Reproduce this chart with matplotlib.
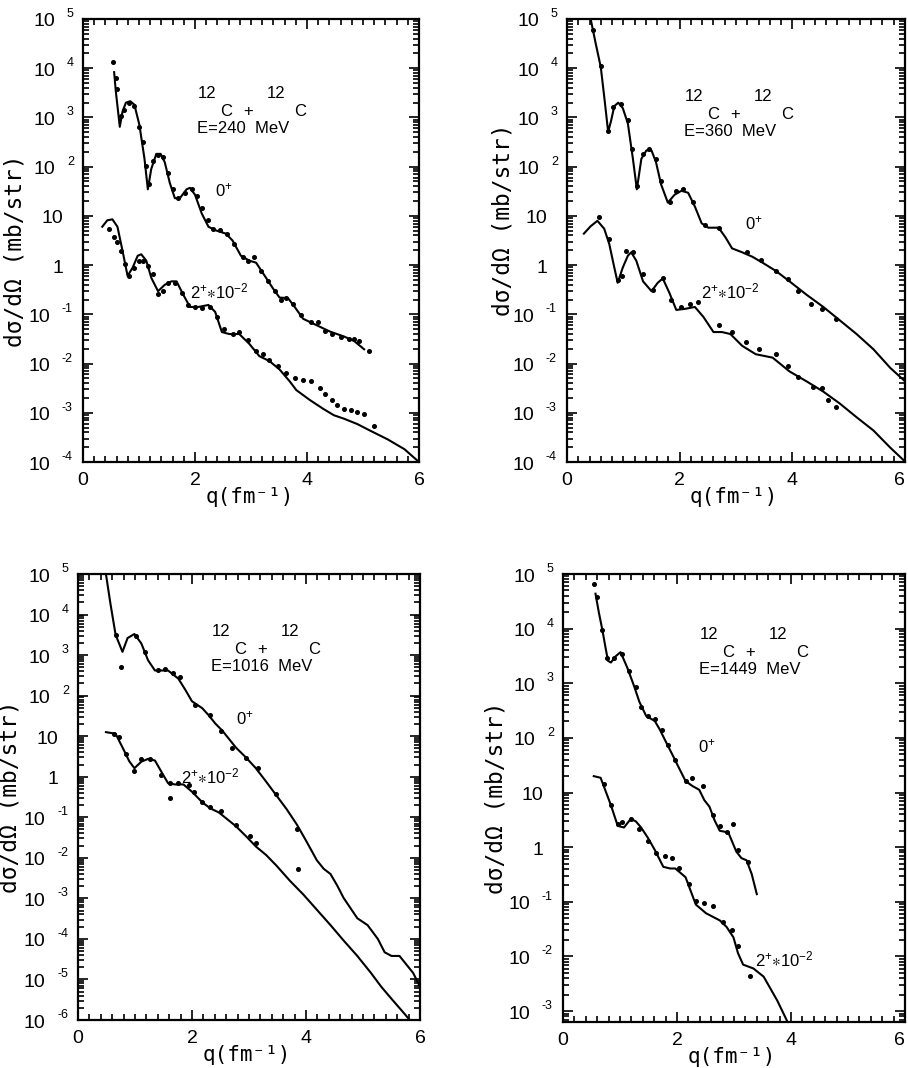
import numpy as np
import matplotlib
matplotlib.use("Agg")
import matplotlib.pyplot as plt
from matplotlib.ticker import FixedLocator, MultipleLocator, LogLocator, NullFormatter

plt.rcParams['font.family'] = ['Liberation Sans', 'DejaVu Sans']
plt.rcParams['mathtext.default'] = 'regular'

# ---------------- data (q in fm^-1, log10 of dsigma/dOmega in mb/sr) ----------------
# Panel 1 : E = 240 MeV
p1_th0_q = [0.556, 0.585, 0.657, 0.706, 0.766, 0.844, 0.917, 1.007, 1.098, 1.158, 1.218, 1.309, 1.387, 1.46, 1.55, 1.64, 1.73, 1.85, 1.91, 2.00, 2.12, 2.24, 2.36, 2.55, 2.67, 2.82, 2.97, 3.09, 3.27, 3.39, 3.51, 3.66, 3.78, 3.93, 4.17, 4.41, 4.66, 4.84, 5.02]
p1_th0_l = [3.92, 3.54, 2.81, 3.12, 3.30, 3.33, 3.26, 2.85, 2.16, 1.54, 1.95, 2.26, 2.26, 2.09, 1.67, 1.36, 1.36, 1.54, 1.57, 1.43, 1.05, 0.78, 0.71, 0.64, 0.50, 0.19, 0.09, 0.05, -0.26, -0.47, -0.66, -0.67, -0.85, -1.09, -1.22, -1.35, -1.45, -1.54, -1.71]
p1_ex0_q = [0.54, 0.585, 0.615, 0.675, 0.736, 0.826, 0.917, 1.007, 1.07, 1.13, 1.176, 1.25, 1.34, 1.43, 1.52, 1.61, 1.70, 1.82, 1.94, 2.03, 2.12, 2.24, 2.33, 2.45, 2.58, 2.70, 2.85, 2.94, 3.06, 3.18, 3.30, 3.42, 3.54, 3.63, 3.75, 3.90, 4.08, 4.20, 4.32, 4.44, 4.60, 4.75, 4.84, 4.93, 5.11]
p1_ex0_l = [4.12, 3.81, 3.57, 3.02, 3.16, 3.30, 3.23, 2.81, 2.50, 2.02, 1.64, 2.12, 2.24, 2.19, 1.88, 1.54, 1.36, 1.47, 1.54, 1.40, 1.16, 0.91, 0.74, 0.71, 0.64, 0.43, 0.16, 0.09, 0.16, -0.12, -0.33, -0.53, -0.71, -0.67, -0.78, -1.02, -1.16, -1.16, -1.33, -1.40, -1.47, -1.50, -1.50, -1.54, -1.74]
p1_th2_q = [0.344, 0.434, 0.525, 0.615, 0.706, 0.796, 0.887, 0.977, 1.04, 1.13, 1.22, 1.34, 1.46, 1.58, 1.67, 1.79, 1.91, 2.06, 2.24, 2.36, 2.48, 2.61, 2.79, 2.97, 3.15, 3.33, 3.51, 3.69, 3.81, 4.05, 4.29, 4.48, 4.66, 4.90, 5.14, 5.44, 5.74, 6.0]
p1_th2_l = [0.78, 0.91, 0.93, 0.78, 0.29, -0.22, -0.05, 0.19, 0.22, 0.09, -0.26, -0.53, -0.40, -0.33, -0.33, -0.60, -0.85, -0.85, -0.81, -0.95, -1.36, -1.40, -1.40, -1.60, -1.85, -1.95, -2.12, -2.36, -2.54, -2.74, -2.92, -3.05, -3.12, -3.23, -3.37, -3.54, -3.74, -4.0]
p1_ex2_q = [0.464, 0.555, 0.615, 0.675, 0.748, 0.826, 0.917, 1.007, 1.07, 1.16, 1.25, 1.34, 1.43, 1.52, 1.64, 1.76, 1.88, 2.00, 2.12, 2.27, 2.39, 2.52, 2.67, 2.79, 2.94, 3.09, 3.21, 3.33, 3.48, 3.63, 3.78, 3.93, 4.08, 4.23, 4.32, 4.44, 4.54, 4.66, 4.78, 4.90, 5.02, 5.20]
p1_ex2_l = [0.74, 0.57, 0.47, 0.29, 0.02, -0.22, -0.05, 0.09, 0.09, -0.02, -0.19, -0.59, -0.53, -0.36, -0.36, -0.57, -0.81, -0.85, -0.87, -0.85, -1.05, -1.29, -1.40, -1.36, -1.53, -1.74, -1.81, -1.92, -2.05, -2.19, -2.29, -2.33, -2.36, -2.50, -2.61, -2.74, -2.85, -2.92, -2.95, -2.99, -3.02, -3.26]

# Panel 2 : E = 360 MeV
p2_th0_q = [0.42, 0.51, 0.60, 0.67, 0.73, 0.78, 0.84, 0.91, 0.99, 1.08, 1.17, 1.24, 1.32, 1.41, 1.50, 1.58, 1.67, 1.79, 1.91, 2.03, 2.15, 2.27, 2.39, 2.51, 2.69, 2.81, 2.93, 3.11, 3.29, 3.47, 3.71, 3.95, 4.25, 4.55, 4.84, 5.14, 5.44, 5.74, 6.0]
p2_th0_l = [5.0, 4.50, 4.02, 3.33, 2.71, 2.92, 3.23, 3.30, 3.19, 2.88, 2.16, 1.54, 2.16, 2.33, 2.33, 2.09, 1.64, 1.27, 1.43, 1.51, 1.47, 1.19, 0.85, 0.76, 0.76, 0.57, 0.34, 0.26, 0.17, 0.05, -0.12, -0.33, -0.60, -0.85, -1.12, -1.40, -1.71, -2.09, -2.36]
p2_ex0_q = [0.47, 0.60, 0.73, 0.81, 0.96, 1.08, 1.15, 1.24, 1.35, 1.45, 1.58, 1.67, 1.82, 1.94, 2.06, 2.24, 2.45, 2.69, 3.20, 3.44, 3.71, 3.92, 4.10, 4.34, 4.52, 4.78]
p2_ex0_l = [4.78, 4.05, 2.72, 3.21, 3.27, 2.95, 2.36, 1.60, 2.26, 2.36, 2.16, 1.71, 1.29, 1.50, 1.54, 1.29, 0.81, 0.76, 0.26, 0.10, -0.12, -0.29, -0.53, -0.80, -0.89, -1.10]
p2_th2_q = [0.30, 0.42, 0.54, 0.66, 0.75, 0.84, 0.90, 0.99, 1.08, 1.14, 1.23, 1.35, 1.50, 1.61, 1.70, 1.82, 1.94, 2.09, 2.27, 2.42, 2.60, 2.75, 2.90, 3.11, 3.35, 3.65, 3.95, 4.25, 4.55, 4.84, 5.14, 5.44, 5.74, 6.0]
p2_th2_l = [0.64, 0.79, 0.90, 0.74, 0.43, -0.05, -0.36, -0.05, 0.19, 0.26, 0.09, -0.33, -0.53, -0.36, -0.27, -0.57, -0.91, -0.89, -0.85, -1.05, -1.36, -1.36, -1.40, -1.64, -1.81, -1.88, -2.16, -2.36, -2.57, -2.81, -3.09, -3.36, -3.71, -3.99]
p2_ex2_q = [0.57, 0.75, 0.90, 0.97, 1.05, 1.17, 1.35, 1.53, 1.70, 1.85, 2.03, 2.18, 2.33, 2.69, 2.93, 3.17, 3.41, 3.71, 3.92, 4.10, 4.37, 4.52, 4.64, 4.78]
p2_ex2_l = [0.98, 0.53, -0.31, -0.22, 0.29, 0.26, -0.19, -0.50, -0.26, -0.71, -0.85, -0.79, -0.74, -1.22, -1.35, -1.57, -1.71, -1.81, -2.05, -2.27, -2.47, -2.49, -2.74, -2.88]

# Panel 3 : E = 1016 MeV
p3_th0_q = [0.49, 0.57, 0.66, 0.78, 0.87, 0.99, 1.11, 1.23, 1.35, 1.46, 1.58, 1.76, 1.88, 2.00, 2.18, 2.29, 2.41, 2.53, 2.65, 2.77, 2.95, 3.12, 3.30, 3.48, 3.66, 3.84, 4.01, 4.19, 4.31, 4.43, 4.55, 4.66, 4.78, 4.90, 5.08, 5.26, 5.38, 5.50, 5.64, 5.76, 5.88, 6.0]
p3_th0_l = [5.0, 4.26, 3.50, 3.08, 3.42, 3.52, 3.29, 2.87, 2.62, 2.62, 2.62, 2.42, 2.15, 1.86, 1.69, 1.52, 1.31, 1.14, 0.93, 0.72, 0.47, 0.21, -0.12, -0.46, -0.80, -1.18, -1.60, -2.06, -2.27, -2.40, -2.69, -2.99, -3.24, -3.49, -3.66, -4.00, -4.33, -4.42, -4.42, -4.63, -4.84, -5.18]
p3_ex0_q = [0.66, 0.75, 1.02, 1.17, 1.40, 1.52, 1.67, 1.79, 2.06, 2.32, 2.50, 2.71, 2.95, 3.15, 3.48, 3.84, 3.86]
p3_ex0_l = [3.50, 2.70, 3.46, 3.08, 2.62, 2.66, 2.57, 2.45, 1.77, 1.52, 1.14, 0.72, 0.47, 0.21, -0.42, -1.30, -2.27]
p3_th2_q = [0.49, 0.66, 0.81, 0.90, 0.99, 1.11, 1.23, 1.35, 1.46, 1.58, 1.70, 1.85, 2.00, 2.18, 2.32, 2.47, 2.62, 2.77, 2.95, 3.12, 3.30, 3.48, 3.72, 3.95, 4.19, 4.43, 4.66, 4.90, 5.14, 5.32, 5.52, 5.73, 5.82]
p3_th2_l = [1.10, 1.06, 0.64, 0.38, 0.21, 0.37, 0.44, 0.40, 0.13, -0.16, -0.19, -0.19, -0.37, -0.63, -0.78, -0.88, -1.05, -1.22, -1.47, -1.72, -1.93, -2.19, -2.57, -2.90, -3.28, -3.66, -4.04, -4.42, -4.84, -5.18, -5.51, -5.85, -6.0]
p3_ex2_q = [0.63, 0.72, 0.84, 0.99, 1.11, 1.26, 1.46, 1.61, 1.76, 1.94, 2.03, 2.18, 2.32, 2.50, 2.77, 3.01, 3.12, 1.61]
p3_ex2_l = [1.06, 0.97, 0.55, 0.13, 0.43, 0.43, 0.05, -0.16, -0.16, -0.21, -0.37, -0.63, -0.75, -0.84, -1.20, -1.47, -1.64, -0.53]

# Panel 4 : E = 1449 MeV
p4_th0_q = [0.57, 0.63, 0.69, 0.75, 0.79, 0.84, 0.93, 1.01, 1.13, 1.25, 1.34, 1.46, 1.61, 1.70, 1.79, 1.94, 2.03, 2.15, 2.27, 2.39, 2.48, 2.57, 2.66, 2.75, 2.90, 3.04, 3.13, 3.22, 3.31, 3.40]
p4_th0_l = [4.64, 4.29, 3.98, 3.63, 3.41, 3.38, 3.50, 3.57, 3.28, 2.94, 2.66, 2.40, 2.31, 2.15, 1.96, 1.65, 1.46, 1.21, 1.12, 1.05, 0.86, 0.74, 0.49, 0.30, 0.27, -0.08, -0.20, -0.24, -0.49, -0.86]
p4_ex0_q = [0.55, 0.60, 0.69, 0.78, 0.90, 1.04, 1.16, 1.28, 1.37, 1.49, 1.61, 1.73, 1.85, 1.97, 2.15, 2.27, 2.45, 2.63, 2.75, 2.87, 2.99, 3.07, 3.25]
p4_ex0_l = [4.82, 4.57, 3.98, 3.47, 3.47, 3.54, 3.22, 2.94, 2.56, 2.40, 2.35, 2.15, 1.87, 1.59, 1.21, 1.26, 1.12, 0.58, 0.39, 0.27, 0.42, -0.05, -0.27]
p4_th2_q = [0.54, 0.66, 0.75, 0.84, 0.96, 1.07, 1.19, 1.28, 1.37, 1.49, 1.61, 1.76, 1.88, 1.97, 2.15, 2.24, 2.33, 2.51, 2.75, 2.87, 2.99, 3.07, 3.16, 3.34, 3.52, 3.64, 3.76, 3.94]
p4_th2_l = [1.30, 1.27, 1.02, 0.77, 0.39, 0.36, 0.52, 0.47, 0.36, 0.17, -0.05, -0.36, -0.39, -0.39, -0.55, -0.80, -1.05, -1.21, -1.34, -1.46, -1.65, -1.94, -2.15, -2.22, -2.37, -2.59, -2.81, -3.20]
p4_ex2_q = [0.72, 0.84, 0.96, 1.04, 1.19, 1.34, 1.49, 1.64, 1.79, 1.91, 2.03, 2.21, 2.33, 2.48, 2.63, 2.81, 2.96, 3.07, 3.28]
p4_ex2_l = [1.15, 0.77, 0.42, 0.46, 0.52, 0.33, 0.11, -0.11, -0.17, -0.20, -0.39, -0.68, -0.99, -1.02, -1.08, -1.37, -1.52, -1.81, -2.36]

energies = ["E=240  MeV", "E=360  MeV", "E=1016  MeV", "E=1449  MeV"]
y_exp_ranges = [(-4, 5), (-4, 5), (-6, 5), (-3, 5)]
y_bottoms = [1e-4, 1e-4, 1e-6, 10 ** -3.2]
xticks = [0, 2, 4, 6]

panels = [
    (p1_th0_q, p1_th0_l, p1_ex0_q, p1_ex0_l, p1_th2_q, p1_th2_l, p1_ex2_q, p1_ex2_l),
    (p2_th0_q, p2_th0_l, p2_ex0_q, p2_ex0_l, p2_th2_q, p2_th2_l, p2_ex2_q, p2_ex2_l),
    (p3_th0_q, p3_th0_l, p3_ex0_q, p3_ex0_l, p3_th2_q, p3_th2_l, p3_ex2_q, p3_ex2_l),
    (p4_th0_q, p4_th0_l, p4_ex0_q, p4_ex0_l, p4_th2_q, p4_th2_l, p4_ex2_q, p4_ex2_l),
]

# ---------------- layout ----------------
W, H = 908, 1068
rects = [
    (83, 19, 419, 462),
    (567, 19, 905, 462),
    (78, 574, 420, 1020),
    (563, 574, 905, 1022),
]
right_column = [False, True, False, True]
# (first '12' left x, its center y, 0+ x, 0+ y, 2+ x, 2+ y) in axes fraction
text_pos = [
    (0.342, 0.831, 0.394, 0.613, 0.319, 0.385),
    (0.349, 0.826, 0.528, 0.538, 0.397, 0.385),
    (0.392, 0.870, 0.462, 0.676, 0.302, 0.546),
    (0.400, 0.866, 0.395, 0.615, 0.560, 0.139),
]
ylabel_pos = [(-0.167, 0.477), (-0.154, 0.547), (-0.164, 0.50), (-0.161, 0.50)]

fig = plt.figure(figsize=(W / 100, H / 100), dpi=100)
fig.patch.set_facecolor('white')

for i, (rect, data) in enumerate(zip(rects, panels)):
    l, t, r, b = rect
    ax = fig.add_axes([l / W, 1 - b / H, (r - l) / W, (b - t) / H])
    th0q, th0l, ex0q, ex0l, th2q, th2l, ex2q, ex2l = data
    ax.plot(th0q, 10 ** np.array(th0l), color='black', lw=1.5, solid_joinstyle='round')
    ax.plot(th2q, 10 ** np.array(th2l), color='black', lw=1.5, solid_joinstyle='round')
    ax.plot(ex0q, 10 ** np.array(ex0l), ls='none', marker='o', ms=2.6, color='black')
    ax.plot(ex2q, 10 ** np.array(ex2l), ls='none', marker='o', ms=2.6, color='black')

    ax.set_yscale('log')
    lo, hi = y_exp_ranges[i]
    ax.set_ylim(y_bottoms[i], 10.0 ** hi)
    ax.set_xlim(0, 6)
    exps = list(range(lo, hi + 1))
    ax.yaxis.set_major_locator(FixedLocator([10.0 ** e for e in exps]))
    ax.set_yticklabels([])
    ax.yaxis.set_minor_locator(LogLocator(base=10, subs=np.arange(2, 10), numticks=30))
    ax.yaxis.set_minor_formatter(NullFormatter())
    ax.set_xticks(xticks)
    ax.set_xticklabels([str(v) for v in xticks])
    ax.xaxis.set_minor_locator(MultipleLocator(0.2))
    if right_column[i]:
        ax.get_xticklabels()[-1].set_horizontalalignment('right')

    ax.tick_params(which='both', direction='in', top=True, right=True, width=1.2, colors='black')
    ax.tick_params(which='major', length=7)
    ax.tick_params(which='minor', length=4)
    ax.tick_params(axis='x', labelsize=14, pad=7)
    for s in ax.spines.values():
        s.set_linewidth(1.6)

    # y tick labels: "10" followed by a detached superscript exponent
    ytr = ax.get_yaxis_transform()
    for e in exps:
        if e in (0, 1):
            ax.annotate("1" if e == 0 else "10", xy=(0, 10.0 ** e), xycoords=ytr,
                        xytext=(-20, -3), textcoords='offset pixels',
                        ha='right', va='center', fontsize=14, annotation_clip=False)
        else:
            s = ("-%d" % (-e)) if e < 0 else "%d" % e
            w_exp = 7 * len(s.replace('-', '')) + (5 if e < 0 else 0)
            base_right = -(21 + w_exp)
            ax.annotate("10", xy=(0, 10.0 ** e), xycoords=ytr,
                        xytext=(base_right, -3), textcoords='offset pixels',
                        ha='right', va='center', fontsize=14, annotation_clip=False)
            ax.annotate(s, xy=(0, 10.0 ** e), xycoords=ytr,
                        xytext=(base_right + 12, 5), textcoords='offset pixels',
                        ha='left', va='center', fontsize=9, annotation_clip=False)

    ax.set_xlabel("q(fm⁻¹)", fontsize=15, family='DejaVu Sans Mono')
    ax.xaxis.set_label_coords(0.495, -0.056)
    ax.set_ylabel("dσ/dΩ (mb/str)", fontsize=16.5, family='DejaVu Sans Mono')
    ax.yaxis.set_label_coords(*ylabel_pos[i])

    x12, y12, zx, zy, tx, ty = text_pos[i]
    parts = [("12", 0, 0), ("C", 22, -18), ("+", 45, -18), ("12", 69, 0), ("C", 96, -18)]
    for txt, dx, dy in parts:
        ax.annotate(txt, xy=(x12, y12), xycoords='axes fraction', xytext=(dx, dy),
                    textcoords='offset pixels', ha='left', va='center', fontsize=12)
    ax.annotate(energies[i], xy=(x12, y12), xycoords='axes fraction', xytext=(-1, -35),
                textcoords='offset pixels', ha='left', va='center', fontsize=12)
    ax.text(zx, zy, r"0$^{+}$", transform=ax.transAxes, fontsize=12, ha='left', va='center')
    ax.text(tx, ty, r"2$^{+}$$\ast$10$^{-2}$", transform=ax.transAxes, fontsize=12, ha='left', va='center')

fig.savefig("out.png", dpi=100, facecolor='white')
